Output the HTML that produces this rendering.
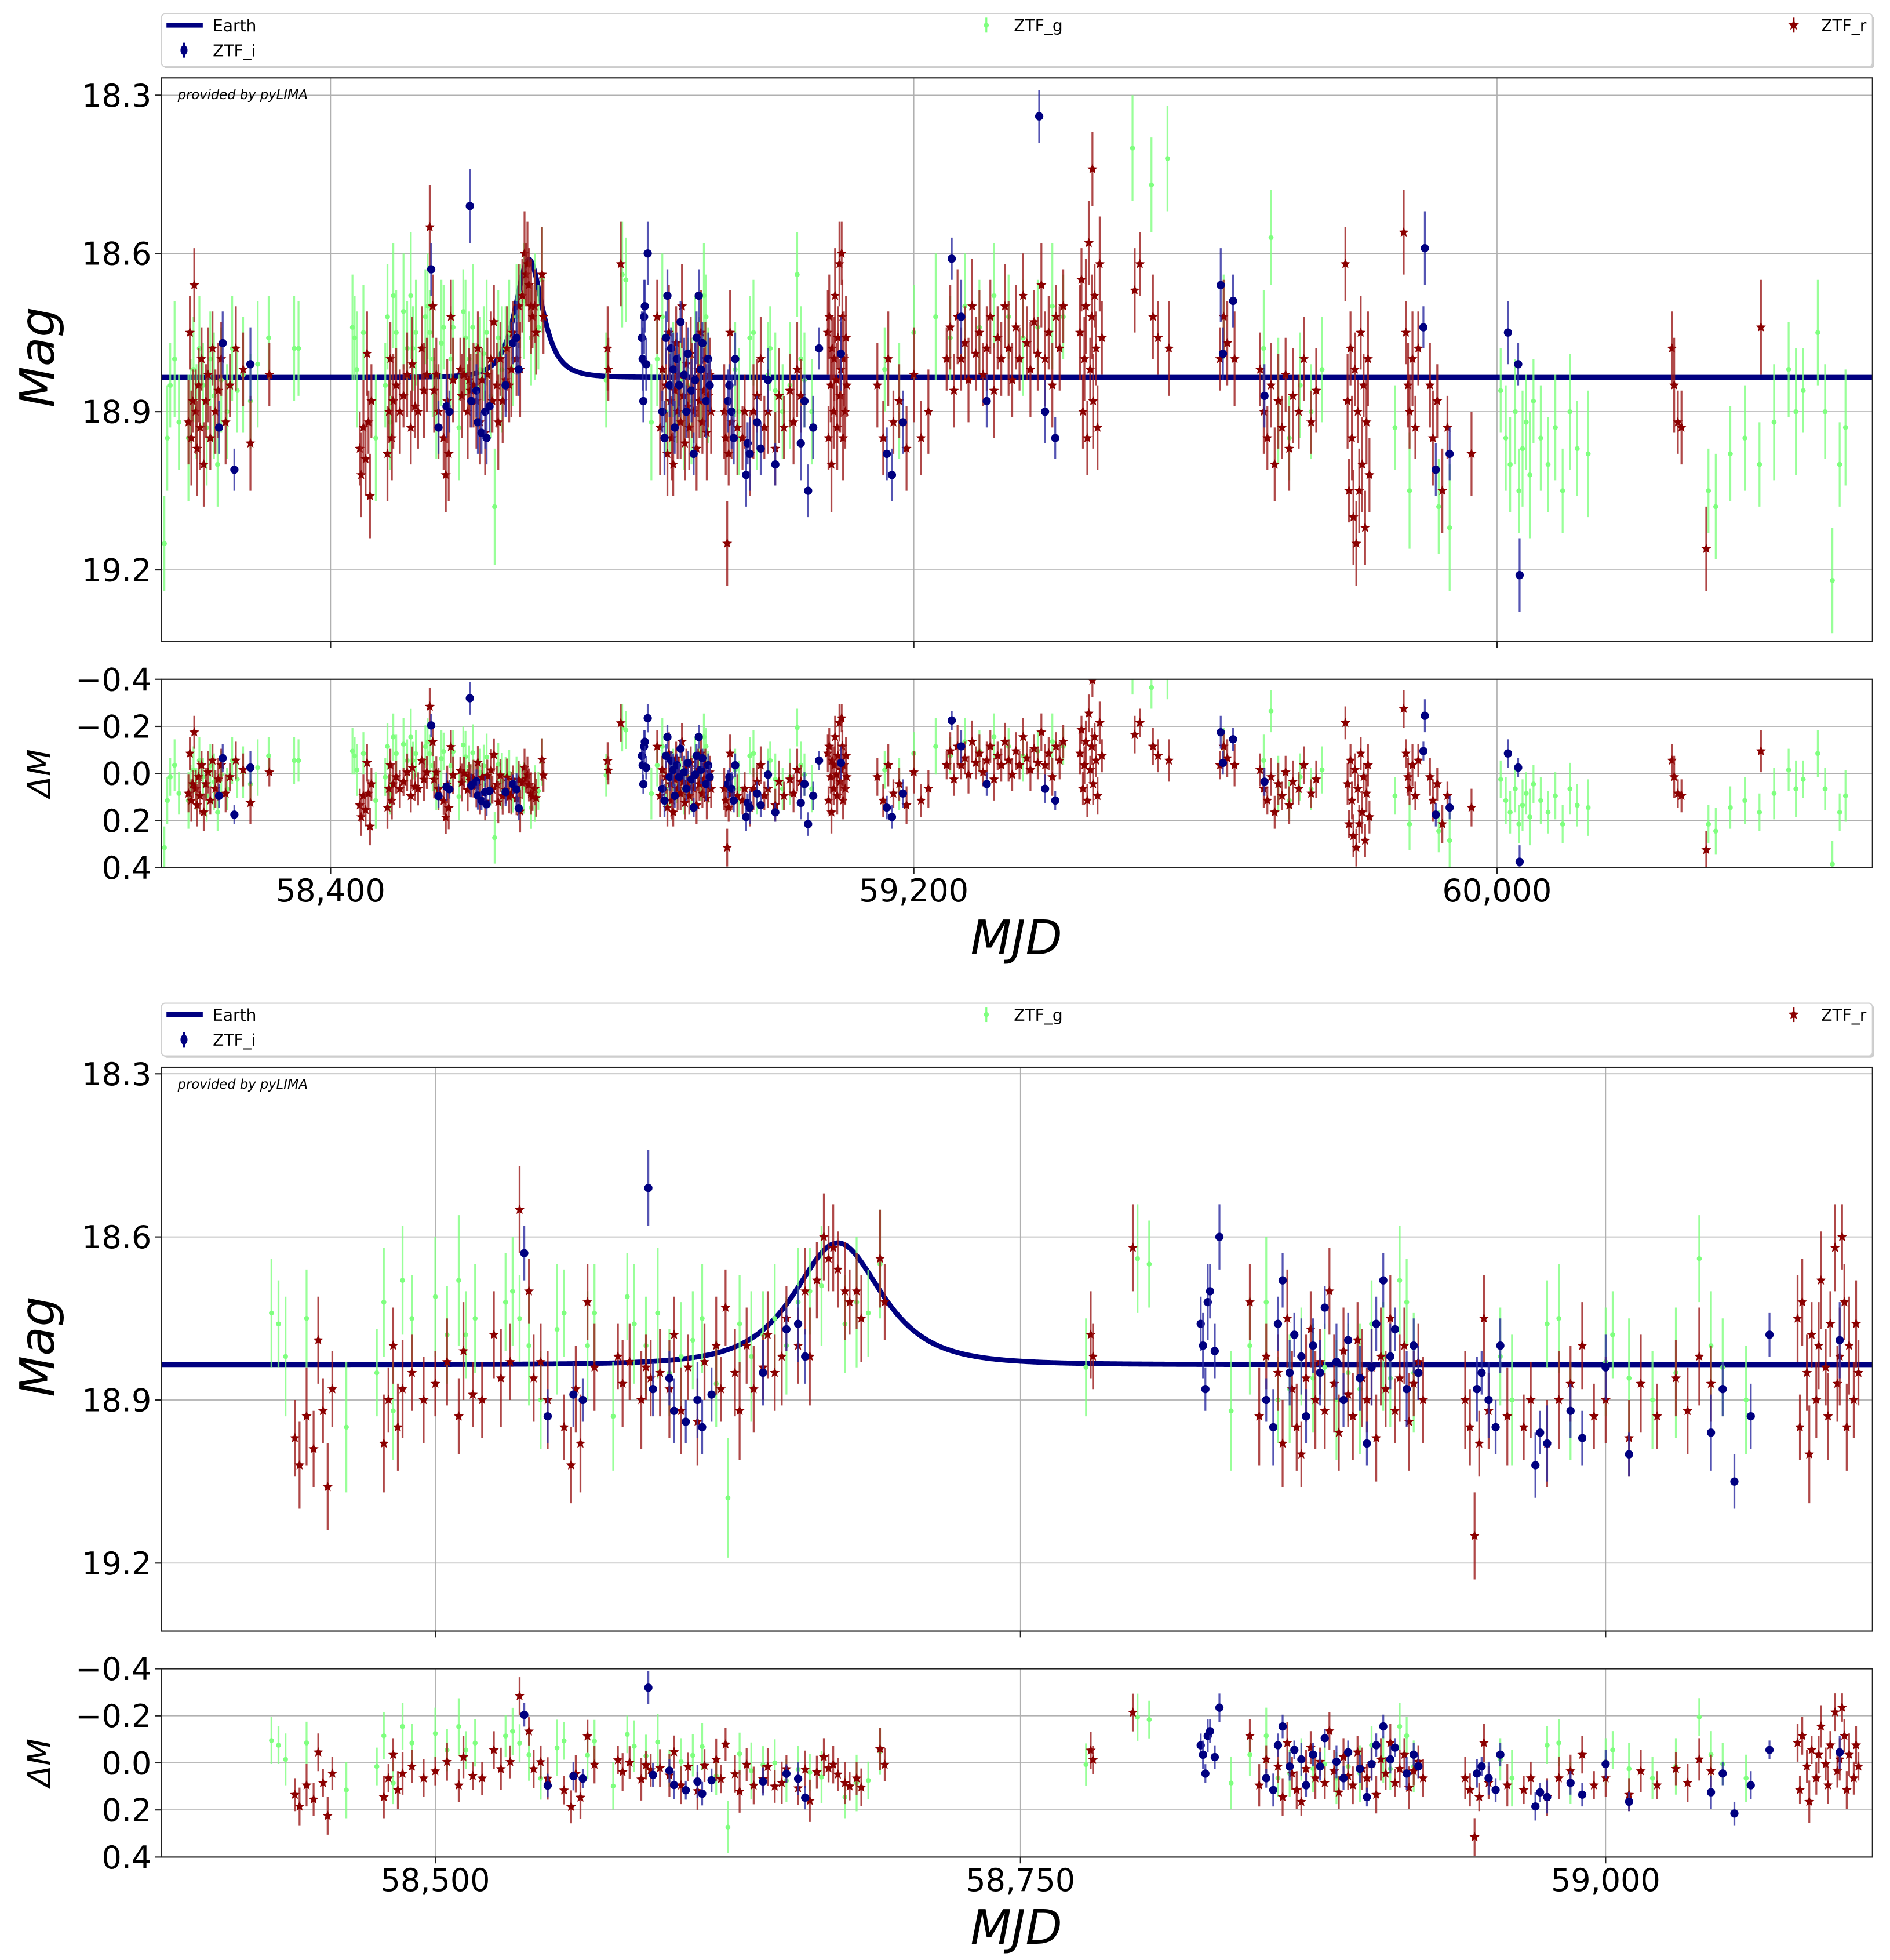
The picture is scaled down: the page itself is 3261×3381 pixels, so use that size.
<!DOCTYPE html>
<html><head><meta charset="utf-8"><style>
html,body{margin:0;padding:0;background:#fff}
svg{display:block}
text{font-family:"DejaVu Sans","Liberation Sans",sans-serif}
</style></head><body>
<svg id="fig" xmlns="http://www.w3.org/2000/svg" width="3261" height="3381" viewBox="0 0 1510 1561" preserveAspectRatio="none"></svg>
<script>
// ---- data ----
const rTime=[58205,58207,58209,58211,58213,58215,58217,58219,58221,58223,58226,58229,58232,58235,58238,58242,58246,58250,58256,58262,58270,58280,58290,58316,
58440,58442,58445,58448,58450,58452,58454,58456,58478,58480,58482,58484,58486,58490,58495,58500,58505,58510,58512,58516,58520,58525,58528,58532,58536,58540,58542,58545,58548,58555,58558,58560,58562,58565,58568,58578,58580,58583,58588,58590,58592,58596,58600,58602,58605,58608,58612,58615,58620,58622,58624,58628,58630,58633,58636,58640,58642,58645,58648,58650,58655,58658,58660,58663,58666,58668,58670,58672,58675,58677,58680,58682,58690,58692,
58780,58781,58798,58848,58852,58855,58860,58862,58864,58866,58868,58870,58872,58874,58876,58878,58880,58882,58884,58886,58888,58890,58892,58894,58896,58898,58900,58902,58904,58906,58908,58910,58912,58914,58916,58918,58920,58922,
58940,58942,58944,58946,58948,58950,58958,58965,58968,58975,58980,58985,58990,58995,59000,59010,59015,59022,59030,59035,59040,59045,
59082,59083,59084,59086,59087,59088,59090,59091,59092,59094,59095,59096,59098,59099,59100,59101,59102,59103,59104,59106,59107,59108,
59150,59158,59165,59172,59180,59190,59200,59210,59220,
59245,59250,59255,59260,59265,59270,59275,59280,59285,59290,59295,59300,59305,59310,59315,59320,59325,59330,59335,59340,59345,59350,59355,59360,59365,59370,59375,59380,59385,59390,59395,59400,59405,
59428,59430,59432,59434,59436,59438,59440,59442,59444,59445,59446,59448,59450,59452,59455,59458,
59503,59510,59528,59535,59550,59620,59625,59630,59640,
59675,59680,59685,59690,59695,59700,59705,59710,59715,59720,59728,59735,59745,59752,
59792,59795,59797,59799,59801,59803,59805,59807,59809,59811,59813,59815,59817,59819,59821,59823,59825,
59872,59875,59878,59880,59884,59888,59892,59908,59912,59918,59925,59932,59965,
60240,60243,60248,60253,60287,60362];
const rMag=[18.92,18.75,18.95,18.88,18.66,18.9,18.97,18.85,18.93,18.8,19.0,18.88,18.83,18.95,18.78,18.9,18.86,18.8,18.92,18.85,18.78,18.82,18.96,18.83,
18.97,19.02,18.93,18.99,18.79,18.92,19.06,18.88,18.98,18.9,18.8,18.95,18.88,18.85,18.9,18.87,18.83,18.93,18.81,18.89,18.9,18.78,18.86,18.83,18.55,18.7,18.86,18.83,18.9,18.95,19.02,18.88,18.98,18.72,18.84,18.82,18.87,18.83,18.9,18.84,18.86,18.85,18.88,18.78,18.92,18.84,18.94,18.83,18.8,18.88,18.73,18.85,18.92,18.8,18.88,18.84,18.78,18.85,18.82,18.75,18.8,18.7,18.82,18.68,18.6,18.64,18.62,18.66,18.7,18.72,18.7,18.75,18.64,18.72,
18.78,18.82,18.62,18.72,18.93,18.82,18.85,18.98,18.75,18.88,18.95,19.0,18.86,18.77,18.9,18.83,18.92,18.7,18.87,18.96,18.81,18.89,18.93,18.79,18.86,18.9,18.84,18.97,18.82,18.88,18.75,18.92,18.86,18.8,18.94,18.87,18.83,18.9,
18.9,18.95,19.15,18.98,18.75,18.92,18.93,18.95,18.9,18.98,18.9,18.87,18.8,18.93,18.9,18.97,18.87,18.93,18.86,18.92,18.82,18.87,
18.75,18.95,18.72,18.85,19.0,18.78,18.9,18.8,18.68,18.84,18.93,18.76,18.62,18.87,18.82,18.6,18.72,18.95,18.8,18.9,18.76,18.85,
18.85,18.95,18.8,18.92,18.88,18.97,18.83,18.95,18.9,
18.8,18.74,18.86,18.72,18.8,18.77,18.84,18.7,18.79,18.75,18.83,18.78,18.72,18.86,18.76,18.8,18.7,18.78,18.84,18.74,18.8,18.68,18.77,18.82,18.73,18.79,18.66,18.8,18.75,18.85,18.72,18.78,18.7,
18.75,18.65,18.9,18.8,18.7,18.95,18.58,18.82,18.72,18.44,18.88,18.68,18.78,18.93,18.62,18.76,
18.67,18.62,18.72,18.76,18.78,18.8,18.72,18.77,18.8,
18.82,18.9,18.95,18.85,19.0,18.88,18.93,18.83,18.97,18.87,18.9,18.8,18.92,18.86,
18.62,18.88,19.05,18.78,18.95,19.1,18.82,19.15,18.9,19.05,18.75,19.0,18.85,19.12,18.92,18.8,19.02,
18.56,18.75,18.85,18.9,18.8,18.93,18.78,18.85,18.95,18.88,19.05,18.93,18.98,
18.78,18.85,18.92,18.93,19.16,18.74];
const rErr=[0.08,0.07,0.09,0.06,0.07,0.08,0.09,0.07,0.08,0.06];
const gTime=[58172,58176,58180,58186,58192,58205,58208,58212,58216,58220,58225,58230,58235,58240,58245,58250,58258,58265,58272,58280,58290,58300,58315,58350,58356,
58430,58433,58436,58445,58462,58475,58478,58482,58486,58490,58500,58505,58510,58513,58517,58530,58533,58536,58540,58545,58552,58555,58565,58568,58576,58582,58585,58590,58595,58600,58605,58610,58614,58620,58625,58630,58635,58640,58645,58650,58655,58660,58665,58675,58680,58685,58690,
58778,58800,58805,58840,58848,58855,58860,58865,58870,58875,58880,58885,58890,58895,58900,58905,58908,58912,58915,58918,
58955,58960,58975,58980,58985,59000,59003,59010,59020,59030,59040,59045,59050,59060,
59160,59180,59200,59230,59250,59270,59290,59310,59330,59350,59370,59390,59405,59500,59526,59548,
59625,59680,59690,59700,59715,59730,59745,59760,59860,59880,59920,59935,
60005,60012,60018,60025,60030,60035,60040,60045,60050,60060,60070,60080,60090,60100,60110,60125,
60290,60300,60320,60340,60360,60380,60400,60410,60420,60440,60450,60460,60470,60478];
const gMag=[19.15,18.95,18.85,18.8,18.92,18.95,18.88,18.82,18.9,18.78,18.85,18.93,18.8,18.87,19.0,18.84,18.9,18.78,18.86,18.83,18.88,18.81,18.76,18.78,18.78,
18.74,18.76,18.82,18.75,18.95,18.85,18.72,18.92,18.68,18.75,18.71,18.78,18.68,18.78,18.75,18.72,18.7,18.75,18.8,18.9,18.77,18.74,18.8,18.74,18.93,18.71,18.76,18.8,18.74,18.85,18.82,18.79,18.75,18.87,19.08,18.76,18.82,18.78,18.75,18.8,18.72,18.7,18.69,18.76,18.72,18.74,18.65,
18.84,18.64,18.65,18.92,18.8,18.72,18.9,18.88,18.82,18.86,18.84,18.9,18.85,18.88,18.76,18.82,18.86,18.68,18.72,18.85,
18.82,18.9,18.76,18.75,18.92,18.83,18.78,18.86,18.9,18.85,18.64,18.8,18.84,18.9,
18.82,18.88,18.75,18.72,18.76,18.7,18.74,18.68,18.72,18.76,18.74,18.7,18.72,18.4,18.47,18.42,
18.72,18.78,18.57,18.88,18.95,18.85,18.9,18.82,18.93,19.05,19.08,19.12,
18.86,18.95,19.0,18.9,19.05,18.97,18.92,19.02,18.88,18.95,19.0,18.93,19.05,18.9,18.97,18.98,
19.05,19.08,18.98,18.95,19.0,18.92,18.82,18.9,18.86,18.75,18.9,19.22,19.0,18.93];
const gErr=[0.09,0.1,0.08,0.11,0.09,0.12,0.08,0.1];
const iTime=[58247,58252,58268,58290,
58538,58548,58559,58563,58591,58593,58600,58602,58607,58612,58614,58618,58640,58650,58655,58658,
58827,58828,58829,58830,58831,58833,58835,58855,58858,58860,58862,58865,58867,58870,58872,58875,58878,58880,58885,58888,58890,58895,58898,58900,58902,58905,58908,58910,58915,58918,58920,
58945,58947,58950,58953,58955,58970,58972,58975,58985,58990,59000,59010,59045,59050,59055,59062,59070,59100,
59163,59170,59185,59252,59265,59300,59372,59380,59394,
59621,59624,59638,59681,59899,59901,59916,59935,60015,60029,60031];
const iMag=[18.93,18.77,19.01,18.81,
18.63,18.93,18.89,18.9,18.51,18.88,18.86,18.92,18.94,18.9,18.95,18.89,18.85,18.77,18.76,18.82,
18.76,18.8,18.88,18.72,18.7,18.81,18.6,18.9,18.95,18.76,18.68,18.85,18.78,18.82,18.93,18.8,18.85,18.73,18.83,18.9,18.79,18.86,18.98,18.84,18.76,18.68,18.82,18.77,18.88,18.8,18.85,
18.88,18.85,18.9,18.95,18.8,19.02,18.96,18.98,18.92,18.97,18.84,19.0,18.96,18.88,19.05,18.93,18.78,18.79,
18.98,19.02,18.92,18.61,18.72,18.88,18.34,18.9,18.95,
18.66,18.79,18.69,18.87,18.74,18.59,19.01,18.98,18.75,18.81,19.21];
const iErr=[0.05,0.06,0.04,0.07,0.05];
// model parameters (PSPL)
const modelParams=[58672,1.2,20,18.835]; // t0, u0, tE, baseline
const ticks1=[58400,59200,60000];
const ticks1Labels=["58,400","59,200","60,000"];
const ticks2=[58500,58750,59000];
const ticks2Labels=["58,500","58,750","59,000"];
const magTicks=[18.3,18.6,18.9,19.2];
const magTickLabels=["18.3","18.6","18.9","19.2"];
const resTicks=[-0.4,-0.2,0,0.2,0.4];
const resTickLabels=["\u22120.4","\u22120.2","0.0","0.2","0.4"];

const NS="http://www.w3.org/2000/svg";
const svg=document.getElementById('fig');
function mk(tag,attrs,parent){const e=document.createElementNS(NS,tag);for(const k in attrs)e.setAttribute(k,attrs[k]);(parent||svg).appendChild(e);return e;}
function model(t){const u=Math.sqrt(modelParams[1]**2+((t-modelParams[0])/modelParams[2])**2);const A=(u*u+2)/(u*Math.sqrt(u*u+4));return modelParams[3]-2.5*Math.log10(A);}

const panels=[
 {id:'p1',ly:11,x0:129,x1:1496,my0:62,my1:511,ry0:541,ry1:691,d0:58168,d1:60515,m0:18.267,m1:19.336,ticks:ticks1,tl:ticks1Labels},
 {id:'p2',ly:799,x0:129,x1:1496,my0:850,my1:1299,ry0:1329,ry1:1479,d0:58383,d1:59114,m0:18.288,m1:19.325,ticks:ticks2,tl:ticks2Labels}
];
function star(cx,cy,r){let p=[];for(let k=0;k<10;k++){const a=-Math.PI/2+k*Math.PI/5;const rr=k%2?r*0.45:r;p.push((cx+rr*Math.cos(a)).toFixed(2)+','+(cy+rr*Math.sin(a)).toFixed(2));}return p.join(' ');}

panels.forEach((P,pi)=>{
 const X=d=>P.x0+(d-P.d0)/(P.d1-P.d0)*(P.x1-P.x0);
 const Y=m=>P.my0+(m-P.m0)/(P.m1-P.m0)*(P.my1-P.my0);
 const R=v=>P.ry0+(v+0.4)/0.8*(P.ry1-P.ry0);
 const lg=mk('g',{});
 
 
 mk('rect',{x:P.x0+1.5,y:P.ly+1.5,width:P.x1-P.x0,height:42,rx:3,fill:'#ccc'},lg);
 mk('rect',{x:P.x0,y:P.ly,width:P.x1-P.x0,height:42,rx:3,fill:'#fff',stroke:'#d0d0d0','stroke-width':1},lg);
 const le=mk('line',{x1:P.x0+4,x2:P.x0+33,y1:P.ly+9,y2:P.ly+9,stroke:'#000080','stroke-width':4},lg);
 
 
 mk('text',{x:P.x0+41,y:P.ly+14,'font-size':13},lg).textContent='Earth';
 mk('line',{x1:P.x0+18,x2:P.x0+18,y1:P.ly+23,y2:P.ly+35,stroke:'#000080','stroke-width':1.5},lg);
 mk('ellipse',{cx:P.x0+18,cy:P.ly+29,rx:2.8,ry:4,fill:'#000080'},lg);
 mk('text',{x:P.x0+41,y:P.ly+34,'font-size':13},lg).textContent='ZTF_i';
 mk('line',{x1:788,x2:788,y1:P.ly+3,y2:P.ly+15,stroke:'#7fff7f','stroke-width':1.5},lg);
 mk('circle',{cx:788,cy:P.ly+9,r:2,fill:'#7fff7f'},lg);
 mk('text',{x:810,y:P.ly+14,'font-size':13},lg).textContent='ZTF_g';
 mk('line',{x1:1433,x2:1433,y1:P.ly+3,y2:P.ly+15,stroke:'#8b0000','stroke-width':1.5},lg);
 mk('polygon',{points:star(1433,P.ly+9,4.5),fill:'#8b0000'},lg);
 mk('text',{x:1455,y:P.ly+14,'font-size':13},lg).textContent='ZTF_r';

 const cp=mk('clipPath',{id:'cm'+pi});mk('rect',{x:P.x0,y:P.my0,width:P.x1-P.x0,height:P.my1-P.my0},cp);
 const cr=mk('clipPath',{id:'cr'+pi});mk('rect',{x:P.x0,y:P.ry0,width:P.x1-P.x0,height:P.ry1-P.ry0},cr);
 const grid=mk('g',{stroke:'#b0b0b0','stroke-width':0.8});
 
 
 P.ticks.forEach(t=>{mk('line',{x1:X(t),x2:X(t),y1:P.my0,y2:P.my1},grid);mk('line',{x1:X(t),x2:X(t),y1:P.ry0,y2:P.ry1},grid);});
 magTicks.forEach(m=>mk('line',{x1:P.x0,x2:P.x1,y1:Y(m),y2:Y(m)},grid));
 resTicks.forEach(v=>mk('line',{x1:P.x0,x2:P.x1,y1:R(v),y2:R(v)},grid));

 const main=mk('g',{'clip-path':'url(#cm'+pi+')'});
 
 
 const res=mk('g',{'clip-path':'url(#cr'+pi+')'});
 
 
 let pts=[];const step=(P.d1-P.d0)/1500;
 for(let t=P.d0;t<=P.d1;t+=step)pts.push(X(t).toFixed(2)+','+Y(model(t)).toFixed(2));
 const ml=mk('polyline',{points:pts.join(' '),fill:'none',stroke:'#000080','stroke-width':4},main);
 
 

 function band(T,M,E,col,ecol,kind,name){
  const g1=mk('g',{},main);
  
  
  const g2=mk('g',{},res);
  
  
  for(let k=0;k<T.length;k++){
   if(T[k]<P.d0-5||T[k]>P.d1+5)continue;
   const e=E[k%E.length];const x=X(T[k]);const m=M[k];const rv=m-model(T[k]);
   [[g1,Y(m),Y(m-e),Y(m+e)],[g2,R(rv),R(rv-e),R(rv+e)]].forEach(([g,y,ya,yb])=>{
    mk('line',{x1:x,x2:x,y1:ya,y2:yb,stroke:ecol,'stroke-width':1.5,'stroke-opacity':0.8},g);
    if(kind==='i')mk('circle',{cx:x,cy:y,r:3.3,fill:col},g);
    else if(kind==='g')mk('circle',{cx:x,cy:y,r:2,fill:col},g);
    else mk('polygon',{points:star(x,y,4.2),fill:col},g);
   });
  }
 }
 band(gTime,gMag,gErr,'#7fff7f','#7fff7f','g','ztf-g');
 band(rTime,rMag,rErr,'#8b0000','#9b1a1a','r','ztf-r');
 band(iTime,iMag,iErr,'#000080','#2a2aa0','i','ztf-i');

 mk('rect',{x:P.x0,y:P.my0,width:P.x1-P.x0,height:P.my1-P.my0,fill:'none',stroke:'#222','stroke-width':1});
 mk('rect',{x:P.x0,y:P.ry0,width:P.x1-P.x0,height:P.ry1-P.ry0,fill:'none',stroke:'#222','stroke-width':1});
 const pv=mk('text',{x:P.x0+13,y:P.my0+17,'font-size':10.5,'font-style':'italic'});
 pv.textContent='provided by pyLIMA';
 
 
 P.ticks.forEach((t,k)=>{
  mk('line',{x1:X(t),x2:X(t),y1:P.my1,y2:P.my1+5,stroke:'#222'});
  mk('line',{x1:X(t),x2:X(t),y1:P.ry1,y2:P.ry1+5,stroke:'#222'});
  const tx=mk('text',{x:X(t),y:P.ry1+27,'font-size':25,'text-anchor':'middle'});
  tx.textContent=P.tl[k];
  
  
 });
 magTicks.forEach((m,k)=>{
  mk('line',{x1:P.x0-5,x2:P.x0,y1:Y(m),y2:Y(m),stroke:'#222'});
  const tx=mk('text',{x:P.x0-8,y:Y(m)+9,'font-size':25,'text-anchor':'end'});
  tx.textContent=magTickLabels[k];
  
  
 });
 resTicks.forEach((v,k)=>{
  mk('line',{x1:P.x0-5,x2:P.x0,y1:R(v),y2:R(v),stroke:'#222'});
  const tx=mk('text',{x:P.x0-8,y:R(v)+9,'font-size':25,'text-anchor':'end'});
  tx.textContent=resTickLabels[k];
  
  
 });
 const xl=mk('text',{x:812,y:P.ry1+69,'font-size':38,'font-style':'italic','text-anchor':'middle'});
 xl.textContent='MJD';
 
 
 const yc=(P.my0+P.my1)/2-2;
 const yl=mk('text',{x:0,y:0,'font-size':38,'font-style':'italic','text-anchor':'middle',transform:'translate(43,'+yc+') rotate(-90)'});
 yl.textContent='Mag';
 
 
 const rc=(P.ry0+P.ry1)/2;
 const rl=mk('text',{x:0,y:0,'font-size':25,'font-style':'italic','text-anchor':'middle',transform:'translate(40,'+rc+') rotate(-90)'});
 rl.textContent='\u0394M';
 
 
});
</script>
</body></html>
